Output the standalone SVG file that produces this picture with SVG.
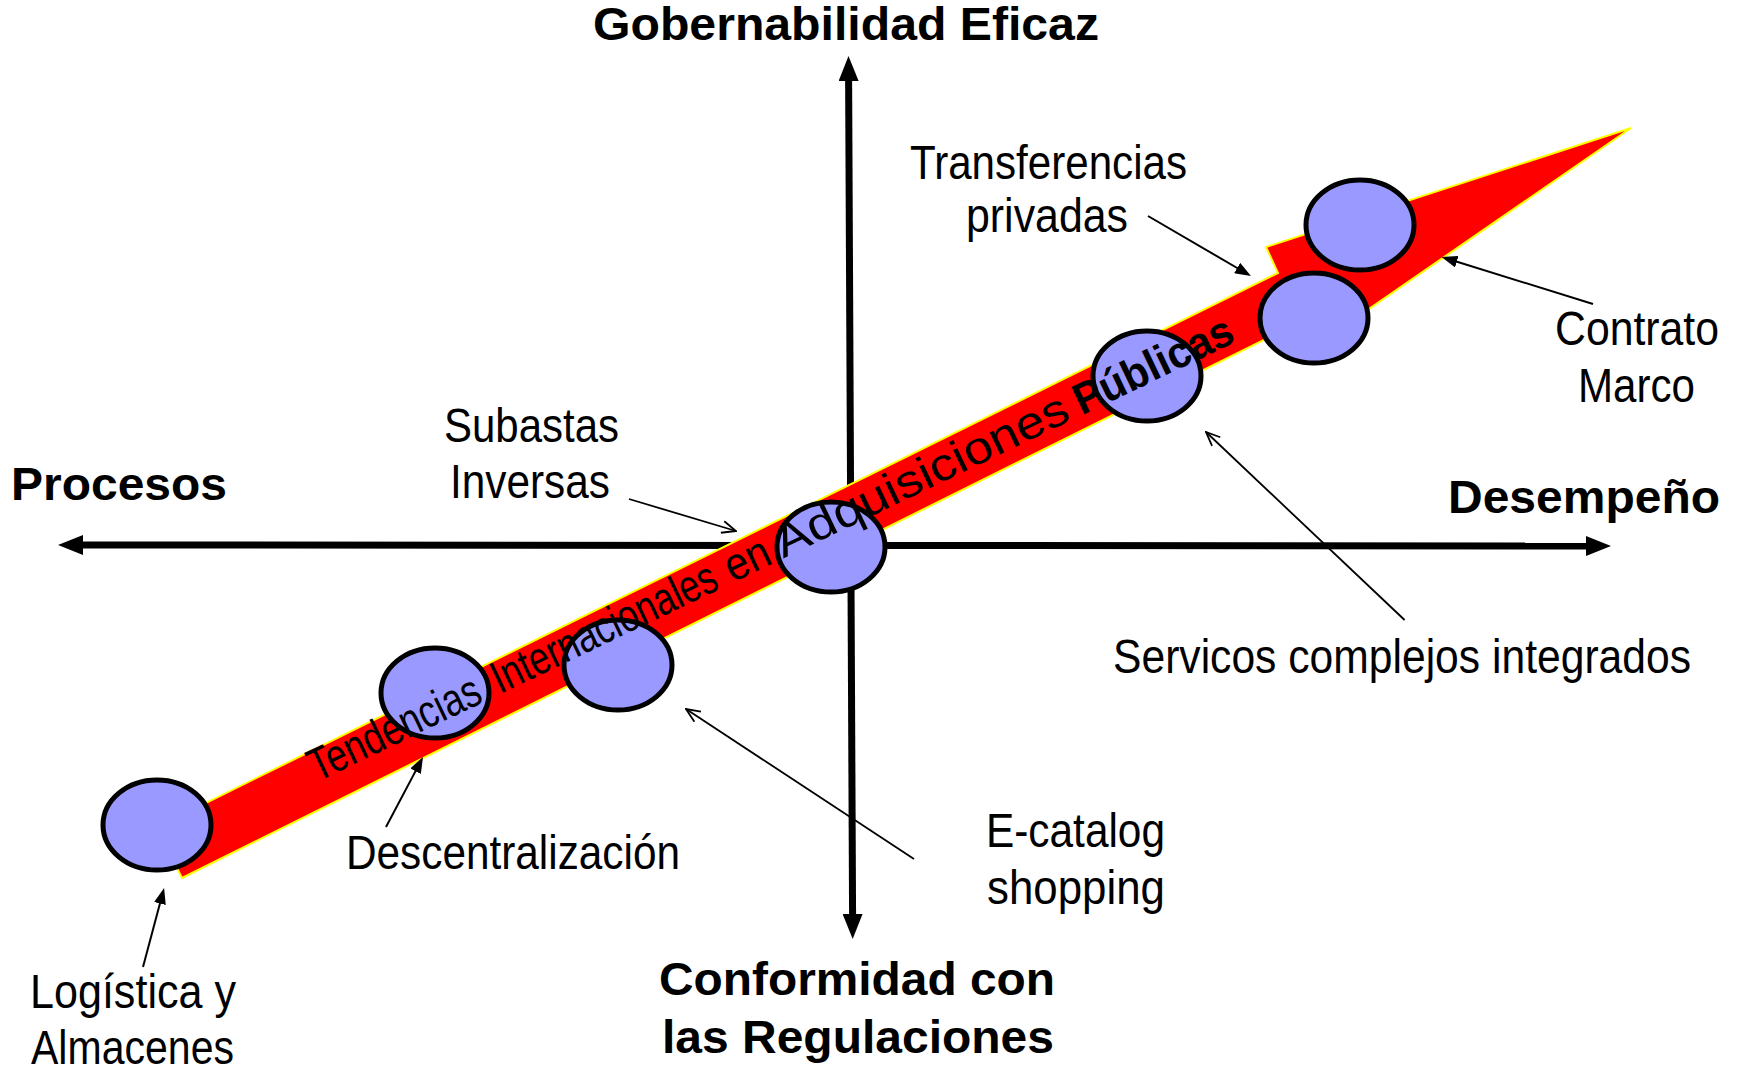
<svg xmlns="http://www.w3.org/2000/svg" width="1741" height="1068" viewBox="0 0 1741 1068">
<defs>
<style>
.axis{stroke:#000;stroke-width:7;fill:none;marker-start:url(#axisHead);marker-end:url(#axisHead)}
.callF{stroke:#000;stroke-width:2;fill:none;marker-end:url(#fillHead)}
.callO{stroke:#000;stroke-width:1.8;fill:none;marker-end:url(#openHead)}
.node{fill:#9999FF;stroke:#000;stroke-width:5}
.band{fill:#FF0000;stroke:#FFFF00;stroke-width:2;stroke-linejoin:miter}
.lbl{font-family:"Liberation Sans Narrow","Liberation Sans",Arial,sans-serif;font-size:48px;fill:#000}
.ttl{font-family:"Liberation Sans",Arial,sans-serif;font-size:46px;font-weight:bold;fill:#000}
.wa{font-family:"Liberation Sans",Arial,sans-serif;font-size:46px;fill:#000}
.wab{font-family:"Liberation Sans",Arial,sans-serif;font-size:44px;font-weight:bold;fill:#000}
</style>
<marker id="axisHead" markerUnits="userSpaceOnUse" viewBox="0 0 25 20" markerWidth="25" markerHeight="20" refX="5" refY="10" orient="auto-start-reverse">
<path d="M0,0 L25,10 L0,20 z" fill="#000"/>
</marker>
<marker id="fillHead" markerUnits="userSpaceOnUse" viewBox="0 0 16 12" markerWidth="16" markerHeight="12" refX="4" refY="6" orient="auto">
<path d="M0,0 L16,6 L0,12 z" fill="#000"/>
</marker>
<marker id="openHead" markerUnits="userSpaceOnUse" viewBox="0 0 16 14" markerWidth="16" markerHeight="14" refX="15" refY="7" orient="auto">
<path d="M1,1 L15,7 L1,13" fill="none" stroke="#000" stroke-width="1.8"/>
</marker>
</defs>

<g id="axes">
<line class="axis" x1="78" y1="545" x2="1591" y2="546"/>
<line class="axis" x1="848.6" y1="76" x2="852.6" y2="919"/>
</g>

<g id="trend-arrow">
<polygon class="band" points="182,878 1302,321 1314.5,346.5 1631,128 1266,247 1278,273 156.8,827.3"/>
</g>

<g id="node-logistica"><ellipse class="node" cx="157" cy="825" rx="54" ry="45"/></g>
<g id="node-descentralizacion"><ellipse class="node" cx="435" cy="693" rx="54" ry="45"/></g>
<g id="node-ecatalog"><ellipse class="node" cx="618" cy="665" rx="54" ry="45"/></g>
<g id="node-subastas"><ellipse class="node" cx="831" cy="547" rx="54" ry="45"/></g>
<g id="node-servicos"><ellipse class="node" cx="1147" cy="376" rx="54" ry="45"/></g>
<g id="node-transferencias"><ellipse class="node" cx="1314" cy="318" rx="54" ry="45"/></g>
<g id="node-contrato"><ellipse class="node" cx="1360" cy="225" rx="54" ry="45"/></g>

<g id="trend-title">
<text class="wa" transform="translate(317,781.9) rotate(-25.6)" x="0" y="0" textLength="186" lengthAdjust="spacingAndGlyphs">Tendencias</text>
<text class="wa" transform="translate(317,781.9) rotate(-25.6)" x="203" y="0" textLength="245" lengthAdjust="spacingAndGlyphs">Internacionales</text>
<text class="wa" transform="translate(317,781.9) rotate(-25.6)" x="461" y="0" textLength="46" lengthAdjust="spacingAndGlyphs">en</text>
<text class="wa" transform="translate(317,781.9) rotate(-25.6)" x="517" y="0" textLength="321" lengthAdjust="spacingAndGlyphs">Adquisiciones</text>
<text class="wab" transform="translate(317,781.9) rotate(-25.6)" x="848" y="0" textLength="172" lengthAdjust="spacingAndGlyphs">Públicas</text>
</g>

<g id="connectors">
<line class="callF" x1="1148" y1="216" x2="1240.6" y2="270"/>
<line class="callF" x1="1593" y1="304" x2="1453" y2="260.5"/>
<line class="callO" x1="629" y1="499" x2="736" y2="531"/>
<line class="callO" x1="1404.6" y1="620" x2="1206" y2="432"/>
<line class="callO" x1="914" y1="859" x2="686" y2="709"/>
<line class="callF" x1="386" y1="827" x2="417.4" y2="767.6"/>
<line class="callF" x1="143" y1="967" x2="161" y2="899.6"/>
</g>

<g id="label-gobernabilidad"><text class="ttl" x="593" y="40" textLength="506" lengthAdjust="spacingAndGlyphs">Gobernabilidad Eficaz</text></g>
<g id="label-procesos"><text class="ttl" x="11" y="500" textLength="216" lengthAdjust="spacingAndGlyphs">Procesos</text></g>
<g id="label-desempeno"><text class="ttl" x="1448" y="513" textLength="272" lengthAdjust="spacingAndGlyphs">Desempeño</text></g>
<g id="label-conformidad">
<text class="ttl" x="659" y="995" textLength="396" lengthAdjust="spacingAndGlyphs">Conformidad con</text>
<text class="ttl" x="662" y="1053" textLength="392" lengthAdjust="spacingAndGlyphs">las Regulaciones</text>
</g>
<g id="label-transferencias">
<text class="lbl" x="910" y="179" textLength="277" lengthAdjust="spacingAndGlyphs">Transferencias</text>
<text class="lbl" x="966" y="232" textLength="162" lengthAdjust="spacingAndGlyphs">privadas</text>
</g>
<g id="label-contrato">
<text class="lbl" x="1555" y="345" textLength="164" lengthAdjust="spacingAndGlyphs">Contrato</text>
<text class="lbl" x="1578" y="402" textLength="117" lengthAdjust="spacingAndGlyphs">Marco</text>
</g>
<g id="label-subastas">
<text class="lbl" x="444" y="442" textLength="175" lengthAdjust="spacingAndGlyphs">Subastas</text>
<text class="lbl" x="450" y="498" textLength="160" lengthAdjust="spacingAndGlyphs">Inversas</text>
</g>
<g id="label-servicos"><text class="lbl" x="1113" y="673" textLength="578" lengthAdjust="spacingAndGlyphs">Servicos complejos integrados</text></g>
<g id="label-ecatalog">
<text class="lbl" x="986" y="847" textLength="179" lengthAdjust="spacingAndGlyphs">E-catalog</text>
<text class="lbl" x="987" y="904" textLength="178" lengthAdjust="spacingAndGlyphs">shopping</text>
</g>
<g id="label-descentralizacion"><text class="lbl" x="346" y="869" textLength="334" lengthAdjust="spacingAndGlyphs">Descentralización</text></g>
<g id="label-logistica">
<text class="lbl" x="30" y="1008" textLength="206" lengthAdjust="spacingAndGlyphs">Logística y</text>
<text class="lbl" x="31" y="1064" textLength="203" lengthAdjust="spacingAndGlyphs">Almacenes</text>
</g>
</svg>
